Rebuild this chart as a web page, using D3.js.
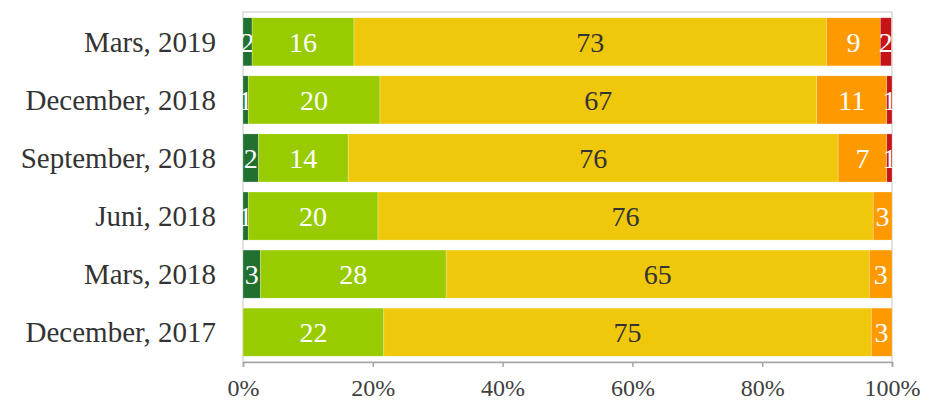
<!DOCTYPE html>
<html>
<head>
  <meta charset="utf-8">
  <title>stacked</title>
  <script src="https://d3js.org/d3.v7.min.js"></script>
<style>
  body { margin: 0; background: #fff; }
  text { font-family: "Liberation Serif", "DejaVu Serif", serif; }
</style>
</head>
<body>
<div id="chart"></div>
<script>
// categories, top to bottom
var categories = ["Mars, 2019", "December, 2018", "September, 2018", "Juni, 2018", "Mars, 2018", "December, 2017"];

// shares per series (%)
var darkGreen  = [1.4, 0.8, 2.4, 0.8, 2.7, 0];
var lightGreen = [15.7, 20.3, 13.8, 20.0, 28.6, 21.7];
var yellow     = [72.8, 67.3, 75.5, 76.3, 65.2, 75.1];
var orange     = [8.3, 10.8, 7.5, 2.9, 3.5, 3.2];
var red        = [1.7, 0.8, 0.8, 0, 0, 0];

// numbers printed in the bars
var darkGreenLbl  = ["2", "1", "2", "1", "3", ""];
var lightGreenLbl = ["16", "20", "14", "20", "28", "22"];
var yellowLbl     = ["73", "67", "76", "76", "65", "75"];
var orangeLbl     = ["9", "11", "7", "3", "3", "3"];
var redLbl        = ["2", "1", "1", "", "", ""];

var xTicks = [0, 20, 40, 60, 80, 100];

var keys = ["dg", "lg", "ye", "or", "re"];
var colors = {dg: "#22702f", lg: "#99cc00", ye: "#efc80c", or: "#ff9900", re: "#c41416"};
var textColors = {dg: "#fff", lg: "#fff", ye: "#333", or: "#fff", re: "#fff"};
var series = {dg: darkGreen, lg: lightGreen, ye: yellow, or: orange, re: red};
var labels = {dg: darkGreenLbl, lg: lightGreenLbl, ye: yellowLbl, or: orangeLbl, re: redLbl};

var rows = categories.map(function(c, i) {
  var r = {cat: c, i: i};
  keys.forEach(function(k) { r[k] = series[k][i]; });
  return r;
});

var margin = {top: 12, right: 33, bottom: 38, left: 243},
    width = 925 - margin.left - margin.right,
    height = 400 - margin.top - margin.bottom;

var svg = d3.select("#chart").append("svg")
    .attr("width", 925)
    .attr("height", 400)
  .append("g")
    .attr("transform", "translate(" + margin.left + "," + margin.top + ")");

var x = d3.scaleLinear().domain([0, 100]).range([0, width]);
var y = d3.scaleBand().domain(categories).range([0, height]).paddingInner(0.172).paddingOuter(0.1);

// plot border
svg.append("rect")
  .attr("x", 0).attr("y", 0).attr("width", width).attr("height", height)
  .attr("fill", "none").attr("stroke", "#d9d9d9").attr("stroke-width", 1.5);

var stack = d3.stack().keys(keys)(rows);

var layer = svg.selectAll("g.layer")
  .data(stack)
  .enter().append("g")
    .attr("class", "layer")
    .attr("fill", function(d) { return colors[d.key]; });

layer.selectAll("rect")
  .data(function(d) { return d; })
  .enter().append("rect")
    .attr("x", function(d) { return x(d[0]); })
    .attr("y", function(d) { return y(d.data.cat); })
    .attr("width", function(d) { return x(d[1]) - x(d[0]); })
    .attr("height", y.bandwidth())
    .attr("stroke", "#fff")
    .attr("stroke-opacity", 0.5)
    .attr("stroke-width", 0.5);

layer.selectAll("text")
  .data(function(d) { return d.map(function(p) { p.key = d.key; return p; }); })
  .enter().append("text")
    .attr("x", function(d) { return (x(d[0]) + x(d[1])) / 2; })
    .attr("y", function(d) { return y(d.data.cat) + y.bandwidth() / 2; })
    .attr("dy", "0.35em")
    .attr("text-anchor", "middle")
    .attr("font-size", 28)
    .attr("fill", function(d) { return textColors[d.key]; })
    .text(function(d) { return labels[d.key][d.data.i]; });

// y labels
svg.selectAll("text.cat")
  .data(categories)
  .enter().append("text")
    .attr("class", "cat")
    .attr("x", -27)
    .attr("y", function(d) { return y(d) + y.bandwidth() / 2; })
    .attr("dy", "0.35em")
    .attr("text-anchor", "end")
    .attr("font-size", 29)
    .attr("fill", "#333")
    .text(function(d) { return d; });

// x axis
var xAxis = svg.append("g")
  .attr("transform", "translate(0," + height + ")")
  .call(d3.axisBottom(x).tickValues(xTicks).tickSize(5).tickFormat(function(d) { return d + "%"; }));
xAxis.select(".domain").attr("stroke", "#a6a6a6").attr("stroke-width", 1.5);
xAxis.selectAll(".tick line").attr("stroke", "#a6a6a6").attr("stroke-width", 1.5);
xAxis.selectAll(".tick text")
  .attr("font-family", "Liberation Serif")
  .attr("font-size", 24)
  .attr("fill", "#404040")
  .attr("dy", "1.1em");
</script>
</body>
</html>
